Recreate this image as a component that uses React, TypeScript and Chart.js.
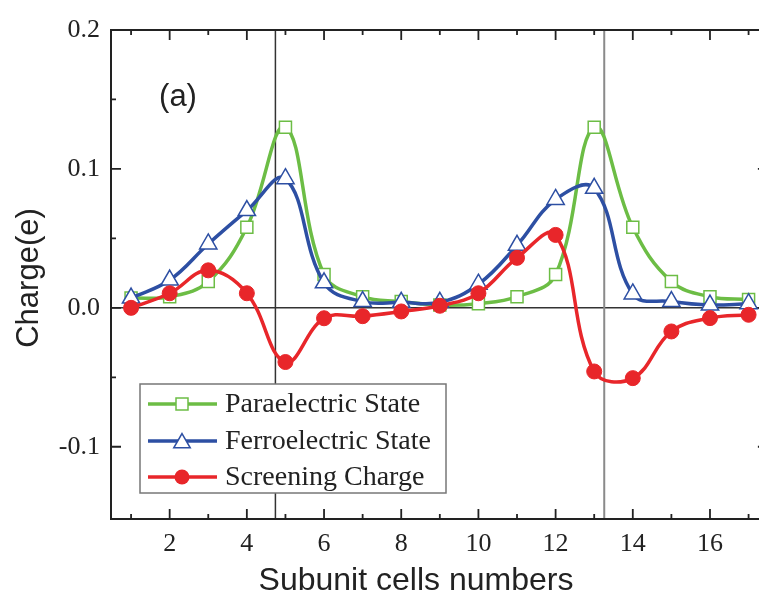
import React, { useEffect, useRef } from "react";
import { Chart, registerables } from "chart.js";

Chart.register(...registerables);

// ---- data ----
const CELLS = [1, 2, 3, 4, 5, 6, 7, 8, 9, 10, 11, 12, 13, 14, 15, 16, 17];
const PARAELECTRIC = [0.007, 0.008, 0.019, 0.058, 0.130, 0.024, 0.008, 0.0045, 0.002, 0.003, 0.008, 0.024, 0.130, 0.058, 0.019, 0.008, 0.006];
const FERROELECTRIC = [0.007, 0.020, 0.046, 0.070, 0.093, 0.018, 0.0045, 0.004, 0.004, 0.017, 0.045, 0.078, 0.086, 0.010, 0.0045, 0.002, 0.003];
const SCREENING = [0.0, 0.0105, 0.027, 0.0105, -0.039, -0.0075, -0.006, -0.0026, 0.0015, 0.0105, 0.036, 0.0525, -0.0458, -0.0506, -0.017, -0.0074, -0.005];

const SERIES_NAMES = ["Paraelectric State", "Ferroelectric State", "Screening Charge"];
const SERIES_COLORS = ["#6cbd45", "#2d4fa3", "#e8262a"];

const X_MIN = 0.48;
const X_MAX = 17.27;
const X_RIGHT_AXIS = 17.5;
const X_TICKS = [1, 2, 3, 4, 5, 6, 7, 8, 9, 10, 11, 12, 13, 14, 15, 16, 17];
const X_LABELS = ["", "2", "", "4", "", "6", "", "8", "", "10", "", "12", "", "14", "", "16", ""];
const Y_MIN = -0.152;
const Y_MAX = 0.2;
const Y_TICKS = [-0.1, -0.05, 0, 0.05, 0.1, 0.15, 0.2];
const Y_LABELS = ["-0.1", "", "0.0", "", "0.1", "", "0.2"];

const WALLS = [4.74, 13.26];
const WALL_COLORS = ["#333333", "#8a8a8a"];

const X_TITLE = "Subunit cells numbers";
const Y_TITLE = "Charge(e)";
const PANEL = "(a)";

const SERIF = "'Liberation Serif', 'Times New Roman', serif";
const SANS = "'Liberation Sans', Arial, sans-serif";

function toPoints(ys: number[]) {
  return CELLS.map((x, i) => ({ x, y: ys[i] }));
}

const decorPlugin = {
  id: "decor",
  beforeDatasetsDraw(chart: any) {
    const { ctx, chartArea } = chart;
    const xs = chart.scales.x;
    const ys = chart.scales.y;
    ctx.save();
    const y0 = ys.getPixelForValue(0);
    ctx.strokeStyle = "#333";
    ctx.lineWidth = 1.5;
    ctx.beginPath();
    ctx.moveTo(chartArea.left, y0);
    ctx.lineTo(chartArea.right, y0);
    ctx.stroke();
    WALLS.forEach((w, i) => {
      const px = xs.getPixelForValue(w);
      ctx.strokeStyle = WALL_COLORS[i];
      ctx.lineWidth = i === 0 ? 1.5 : 2;
      ctx.beginPath();
      ctx.moveTo(px, chartArea.top);
      ctx.lineTo(px, chartArea.bottom);
      ctx.stroke();
    });
    ctx.restore();
  },
  afterDraw(chart: any) {
    const { ctx, chartArea } = chart;
    const { left, top, bottom } = chartArea;
    const xs = chart.scales.x;
    const ys = chart.scales.y;
    const rightAxis = xs.getPixelForValue(X_RIGHT_AXIS);
    ctx.save();
    // frame (right axis lies just outside the picture)
    ctx.strokeStyle = "#222";
    ctx.lineWidth = 2;
    ctx.beginPath();
    ctx.moveTo(rightAxis, top);
    ctx.lineTo(left, top);
    ctx.lineTo(left, bottom);
    ctx.lineTo(rightAxis, bottom);
    ctx.lineTo(rightAxis, top);
    ctx.stroke();
    // inward ticks
    ctx.lineWidth = 1.8;
    X_TICKS.forEach((v, i) => {
      const px = xs.getPixelForValue(v);
      const len = X_LABELS[i] ? 10 : 5;
      ctx.beginPath();
      ctx.moveTo(px, bottom);
      ctx.lineTo(px, bottom - len);
      ctx.moveTo(px, top);
      ctx.lineTo(px, top + len);
      ctx.stroke();
    });
    Y_TICKS.forEach((v, i) => {
      const py = ys.getPixelForValue(v);
      const len = Y_LABELS[i] ? 10 : 5;
      ctx.beginPath();
      ctx.moveTo(left, py);
      ctx.lineTo(left + len, py);
      ctx.moveTo(rightAxis, py);
      ctx.lineTo(rightAxis - len, py);
      ctx.stroke();
    });

    // panel label
    ctx.fillStyle = "#222";
    ctx.font = `31px ${SANS}`;
    ctx.textAlign = "center";
    ctx.textBaseline = "middle";
    ctx.fillText(PANEL, 178, 97);

    // x title
    ctx.font = `32px ${SANS}`;
    ctx.textAlign = "center";
    ctx.textBaseline = "alphabetic";
    ctx.fillText(X_TITLE, 416, 590);

    // y title
    ctx.save();
    ctx.translate(38, 278);
    ctx.rotate(-Math.PI / 2);
    ctx.font = `31px ${SANS}`;
    ctx.textAlign = "center";
    ctx.textBaseline = "alphabetic";
    ctx.fillText(Y_TITLE, 0, 0);
    ctx.restore();

    // legend
    const bx = 140, by = 384, bw = 306, bh = 109;
    ctx.fillStyle = "#fff";
    ctx.fillRect(bx, by, bw, bh);
    ctx.strokeStyle = "#777";
    ctx.lineWidth = 1.5;
    ctx.strokeRect(bx, by, bw, bh);
    const rows = [404, 441, 477];
    chart.data.datasets.forEach((ds: any, i: number) => {
      const ry = rows[i];
      ctx.strokeStyle = ds.borderColor;
      ctx.lineWidth = 3.5;
      ctx.beginPath();
      ctx.moveTo(148, ry);
      ctx.lineTo(217, ry);
      ctx.stroke();
      const cx = 182;
      ctx.lineWidth = 1.5;
      if (ds.pointStyle === "rect") {
        ctx.fillStyle = "#fff";
        ctx.fillRect(cx - 6, ry - 6, 12, 12);
        ctx.strokeRect(cx - 6, ry - 6, 12, 12);
      } else if (ds.pointStyle === "triangle") {
        const r = 9.5;
        ctx.fillStyle = "#fff";
        ctx.beginPath();
        for (let k = 0; k < 3; k++) {
          const a = (k * 2 * Math.PI) / 3;
          const px = cx + Math.sin(a) * r;
          const py = ry + 2 - Math.cos(a) * r;
          if (k === 0) ctx.moveTo(px, py);
          else ctx.lineTo(px, py);
        }
        ctx.closePath();
        ctx.fill();
        ctx.stroke();
      } else {
        ctx.fillStyle = ds.borderColor;
        ctx.beginPath();
        ctx.arc(cx, ry, 7.5, 0, Math.PI * 2);
        ctx.fill();
      }
      ctx.fillStyle = "#222";
      ctx.font = `28px ${SERIF}`;
      ctx.textAlign = "left";
      ctx.textBaseline = "middle";
      ctx.fillText(ds.label, 225, ry + 1);
    });
    ctx.restore();
  },
};

export default function App() {
  const canvasRef = useRef<HTMLCanvasElement | null>(null);

  useEffect(() => {
    const canvas = canvasRef.current;
    if (!canvas) return;
    const series = [PARAELECTRIC, FERROELECTRIC, SCREENING];
    const styles = [
      { pointStyle: "rect", pointRadius: 8.5, fill: "#fff", order: 3 },
      { pointStyle: "triangle", pointRadius: 10, fill: "#fff", order: 2 },
      { pointStyle: "circle", pointRadius: 7.5, fill: SERIES_COLORS[2], order: 1 },
    ];
    const chart = new Chart(canvas, {
      type: "line",
      data: {
        datasets: series.map((ys, i) => ({
          label: SERIES_NAMES[i],
          data: toPoints(ys),
          borderColor: SERIES_COLORS[i],
          backgroundColor: SERIES_COLORS[i],
          borderWidth: 3.5,
          tension: 0.4,
          pointStyle: styles[i].pointStyle as any,
          pointRadius: styles[i].pointRadius,
          pointBackgroundColor: styles[i].fill,
          pointBorderColor: SERIES_COLORS[i],
          pointBorderWidth: i === 2 ? 1 : 1.5,
          order: styles[i].order,
          fill: false,
        })),
      },
      options: {
        responsive: false,
        animation: false,
        devicePixelRatio: 1,
        layout: { autoPadding: false, padding: { top: 30, right: 0, left: 0, bottom: 0 } },
        plugins: { legend: { display: false }, tooltip: { enabled: false } },
        scales: {
          x: {
            type: "linear",
            min: X_MIN,
            max: X_MAX,
            afterBuildTicks: (s: any) => {
              s.ticks = X_TICKS.map((v) => ({ value: v }));
            },
            afterFit: (s: any) => {
              s.height = 76;
              s.paddingLeft = 0;
              s.paddingRight = 0;
            },
            ticks: {
              autoSkip: false,
              maxRotation: 0,
              padding: 10,
              color: "#222",
              font: { family: SERIF, size: 26 },
              callback: (v: any) => {
                const i = X_TICKS.indexOf(Number(v));
                return i >= 0 ? X_LABELS[i] : "";
              },
            },
            grid: { display: false, drawTicks: false },
            border: { display: false },
          },
          y: {
            type: "linear",
            min: Y_MIN,
            max: Y_MAX,
            afterBuildTicks: (s: any) => {
              s.ticks = Y_TICKS.map((v) => ({ value: v }));
            },
            afterFit: (s: any) => {
              s.width = 111;
              s.paddingTop = 0;
              s.paddingBottom = 0;
            },
            ticks: {
              padding: 11,
              color: "#222",
              font: { family: SERIF, size: 26 },
              callback: (v: any) => {
                const i = Y_TICKS.findIndex((t) => Math.abs(t - Number(v)) < 1e-9);
                return i >= 0 ? Y_LABELS[i] : "";
              },
            },
            grid: { display: false, drawTicks: false },
            border: { display: false },
          },
        },
      },
      plugins: [decorPlugin],
    });
    return () => chart.destroy();
  }, []);

  return (
    <div
      style={{
        position: "fixed",
        left: 0,
        top: 0,
        width: 759,
        height: 595,
        overflow: "hidden",
        background: "#fff",
      }}
    >
      <canvas ref={canvasRef} width={759} height={595} style={{ display: "block" }} />
    </div>
  );
}
